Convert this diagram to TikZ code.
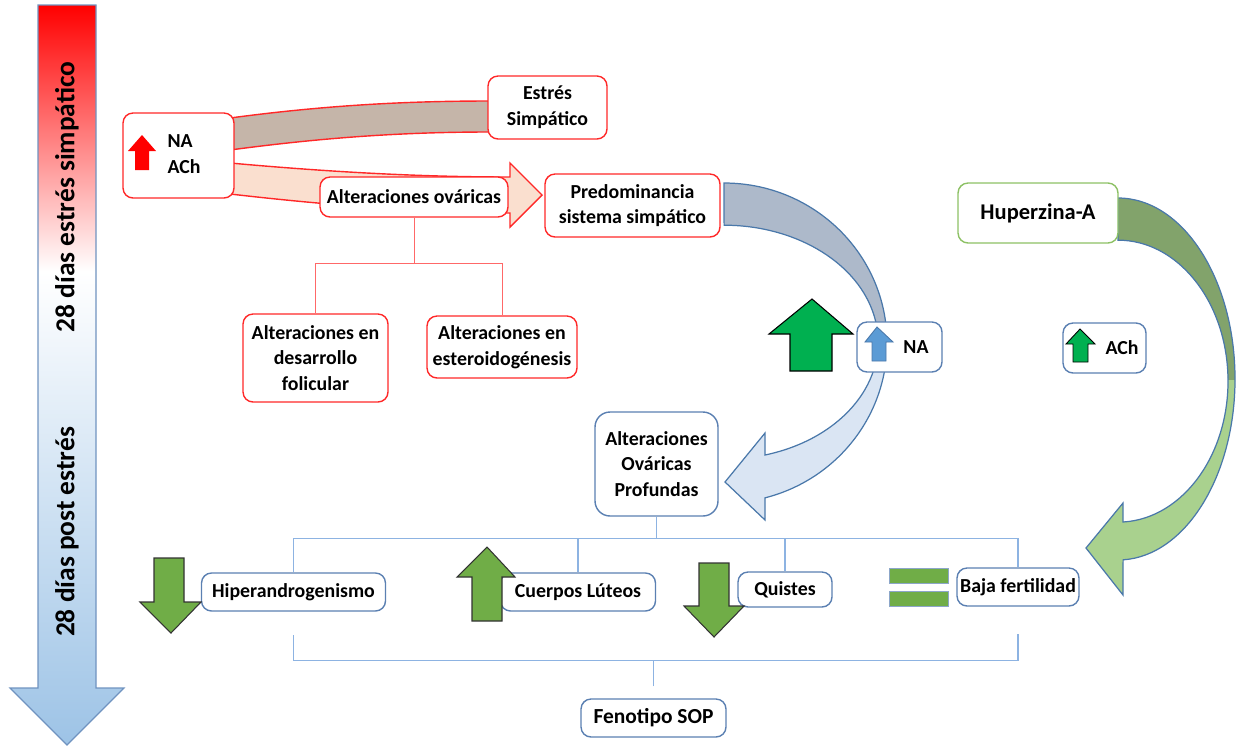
\documentclass[tikz,border=0pt]{standalone}
\usepackage{fontspec}
\setmainfont{Carlito}
\usetikzlibrary{arrows.meta}

\definecolor{boxred}{HTML}{FF2828}
\definecolor{boxblue}{HTML}{5B80B2}
\definecolor{boxgreen}{HTML}{8DC165}
\definecolor{treeblue}{HTML}{8DB3E2}
\definecolor{barblue}{HTML}{9DC3E6}
\definecolor{barline}{HTML}{7093C0}
\definecolor{brownband}{HTML}{C5B5A9}
\definecolor{peach}{HTML}{FADFCF}
\definecolor{greyblue}{HTML}{ADB9CA}
\definecolor{paleblue}{HTML}{DAE5F3}
\definecolor{curveline}{HTML}{4A78AA}
\definecolor{olive}{HTML}{82A36B}
\definecolor{lightgreen}{HTML}{A9D18E}
\definecolor{upgreen}{HTML}{00B050}
\definecolor{leafgreen}{HTML}{70AD47}
\definecolor{naarrow}{HTML}{5B9BD5}

\pgfdeclareverticalshading{stressbar}{100bp}{color(0bp)=(barblue); color(25bp)=(barblue); color(57bp)=(white); color(75bp)=(red); color(100bp)=(red)}

\tikzset{txt/.style = {font = \bfseries\fontsize{11.3}{14.6}\selectfont, align = center, inner sep = 0pt}}
\tikzset{redbox/.style = {txt, draw = boxred, fill = white, line width = 0.8pt, rounded corners = 2mm}}
\tikzset{bluebox/.style = {txt, draw = boxblue, fill = white, line width = 0.8pt, rounded corners = 2mm}}
\tikzset{greenbox/.style = {txt, draw = boxgreen, fill = white, line width = 0.8pt, rounded corners = 2mm}}
\tikzset{bartxt/.style = {font = \bfseries\fontsize{15.6}{18}\selectfont, inner sep = 0pt}}
\tikzset{redtree/.style = {draw = boxred!70, line width = 0.5pt}}
\tikzset{bluetree/.style = {draw = treeblue, line width = 0.6pt}}
\tikzset{band/.style = {draw = boxred, line width = 0.8pt}}
\tikzset{curve/.style = {draw = curveline, line width = 0.7pt}}
\tikzset{leaf/.style = {fill = leafgreen, draw = black!80, line width = 0.6pt}}

\begin{document}
\begin{tikzpicture}[x = 0.02cm, y = -0.02cm]
	\useasboundingbox (0, 0) rectangle (1236, 748);

	\draw[draw = barline, line width = 0.7pt, shading = stressbar] (38, 5) -- (96, 5) -- (96, 688) -- (124, 688) -- (67, 745) -- (10, 688) -- (38, 688) -- cycle;
	\node[bartxt, rotate = 90] (fase1) at (67, 197) {28 días estrés simpático};
	\node[bartxt, rotate = 90] (fase2) at (67, 532) {28 días post estrés};

	\draw[band, fill = brownband] (230, 118) .. controls (320, 106) and (400, 101) .. (490, 101) -- (490, 132) .. controls (400, 132) and (320, 138) .. (230, 150) -- cycle;
	\draw[band, fill = peach] (230, 163) .. controls (330, 172) and (420, 177) .. (510, 177) -- (510, 163) -- (542, 195) -- (510, 227) -- (510, 213) .. controls (400, 212) and (300, 202) .. (230, 194) -- cycle;

	\coordinate (bsplit) at (900, 347);
	\coordinate (gsplit) at (1100, 380);
	\draw[curve, fill = paleblue, path picture = {\fill[greyblue] (path picture bounding box.north west) rectangle (path picture bounding box.east |- bsplit);}]
		(724, 183) arc[start angle = -90, end angle = 75.4, x radius = 163, y radius = 160] -- (765, 520) -- (725, 482) -- (765, 433) -- (765, 455) arc[start angle = 74.6, end angle = -90, x radius = 154, y radius = 117] -- cycle;
	\draw[curve, fill = lightgreen, path picture = {\fill[olive] (path picture bounding box.north west) rectangle (path picture bounding box.east |- gsplit);}]
		(1118, 198) arc[start angle = -90, end angle = 87.5, x radius = 117, y radius = 181] -- (1123, 595) -- (1086, 548) -- (1123, 503) -- (1123, 522) arc[start angle = 87.4, end angle = -90, x radius = 110, y radius = 141] -- cycle;

	\node[redbox, minimum width = 2.22cm, minimum height = 1.70cm] (nach) at (178.5, 155.5) {};
	\node[txt, align = left] (nachtxt) at (184, 154) {NA\\ACh};
	\node[redbox, minimum width = 2.38cm, minimum height = 1.26cm] (estres) at (547.5, 107.5) {Estrés\\Simpático};
	\node[redbox, minimum width = 3.76cm, minimum height = 0.80cm] (altov) at (414, 197) {Alteraciones ováricas};
	\node[redbox, minimum width = 3.50cm, minimum height = 1.26cm] (predom) at (632.5, 205.5) {Predominancia\\sistema simpático};
	\node[redbox, minimum width = 2.90cm, minimum height = 1.76cm] (desarr) at (315.5, 358) {Alteraciones en\\desarrollo\\folicular};
	\node[redbox, minimum width = 3.00cm, minimum height = 1.24cm] (esteroid) at (502, 347) {Alteraciones en\\esteroidogénesis};

	\node[bluebox, minimum width = 1.70cm, minimum height = 1.00cm] (nabox) at (899.5, 347) {};
	\node[txt] (natxt) at (916, 347) {NA};
	\node[bluebox, minimum width = 1.66cm, minimum height = 1.00cm] (achbox) at (1104.5, 348) {};
	\node[txt] (achtxt) at (1122, 348) {ACh};
	\node[greenbox, minimum width = 3.20cm, minimum height = 1.20cm, font = \bfseries\fontsize{12.8}{15}\selectfont] (huper) at (1038, 213) {Huperzina-A};

	\node[bluebox, minimum width = 2.46cm, minimum height = 2.08cm, rounded corners = 3mm] (aop) at (656.5, 464) {Alteraciones\\Ováricas\\Profundas};
	\node[bluebox, minimum width = 3.68cm, minimum height = 0.76cm] (hiper) at (293.5, 592) {Hiperandrogenismo};
	\node[bluebox, minimum width = 3.10cm, minimum height = 0.76cm] (cuerpos) at (578, 592) {Cuerpos Lúteos};
	\node[bluebox, minimum width = 1.88cm, minimum height = 0.70cm] (quistes) at (785, 589.5) {Quistes};
	\node[bluebox, minimum width = 2.44cm, minimum height = 0.76cm] (baja) at (1018, 587) {Baja fertilidad};
	\node[bluebox, minimum width = 2.90cm, minimum height = 0.76cm, font = \bfseries\fontsize{12.2}{14}\selectfont] (fenotipo) at (653.5, 718) {Fenotipo SOP};

	\draw[redtree] (altov.south) -- ++(0, 46) coordinate (rsplit);
	\draw[redtree] (rsplit) -| (desarr.north);
	\draw[redtree] (rsplit) -| (esteroid.north);

	\draw[bluetree] (aop.south) -- ++(0, 22) coordinate (bsplit2);
	\draw[bluetree] (bsplit2) -| (hiper.north);
	\draw[bluetree] (bsplit2) -| (cuerpos.north);
	\draw[bluetree] (bsplit2) -| (quistes.north);
	\draw[bluetree] (bsplit2) -| (baja.north);
	\draw[bluetree] ([yshift = 0.24cm]fenotipo.north) -- ++(0, -26) coordinate (bjoin);
	\draw[bluetree] (bjoin) -| ([yshift = -0.46cm]hiper.south);
	\draw[bluetree] (bjoin) -| ([yshift = -0.54cm]baja.south);

	\fill[red] (142, 135) -- (156, 151) -- (149, 151) -- (149, 170) -- (135, 170) -- (135, 151) -- (128, 151) -- cycle;
	\draw[fill = naarrow, draw = curveline, line width = 0.5pt] (877, 327) -- (893, 342) -- (886, 342) -- (886, 361) -- (872, 361) -- (872, 342) -- (865, 342) -- cycle;
	\draw[fill = upgreen, draw = black, line width = 0.5pt] (1080, 329) -- (1095, 344) -- (1088, 344) -- (1088, 362) -- (1073, 362) -- (1073, 344) -- (1066, 344) -- cycle;
	\draw[fill = upgreen, draw = black, line width = 0.6pt] (812, 299) -- (853, 334) -- (832, 334) -- (832, 371) -- (790, 371) -- (790, 334) -- (769, 334) -- cycle;

	\draw[leaf] (154, 558) -- (184, 558) -- (184, 602) -- (201, 602) -- (171, 633) -- (140, 602) -- (154, 602) -- cycle;
	\draw[leaf] (487, 547) -- (515, 577) -- (502, 577) -- (502, 621) -- (472, 621) -- (472, 577) -- (457, 577) -- cycle;
	\draw[leaf] (699, 563) -- (729, 563) -- (729, 606) -- (744, 606) -- (714, 637) -- (684, 606) -- (699, 606) -- cycle;
	\draw[fill = leafgreen, draw = boxblue!70, line width = 0.4pt] (889, 568) rectangle (948, 583);
	\draw[fill = leafgreen, draw = boxblue!70, line width = 0.4pt] (889, 591) rectangle (948, 606);
\end{tikzpicture}
\end{document}
